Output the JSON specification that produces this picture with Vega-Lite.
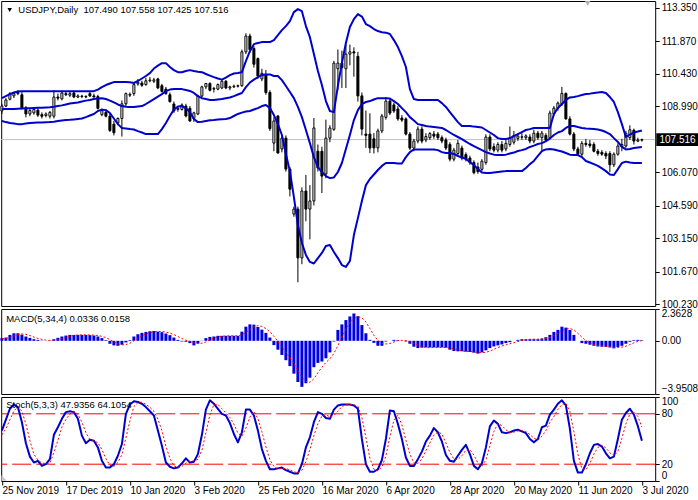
{
"$schema": "https://vega.github.io/schema/vega-lite/v6.json",
"padding": {"left": -0.8, "right": 0, "top": 0, "bottom": 0},
"autosize": {"type": "pad"},
"background": "white",
"spacing": 3,
"bounds": "flush",
"config": {
 "view": {"stroke": "black", "strokeWidth": 1},
 "axis": {"labelFont": "Liberation Sans", "labelFontSize": 10, "labelColor": "black", "tickColor": "black", "tickSize": 4, "labelPadding": 2, "domain": false, "grid": false}
},
"data": {"values": [
{"i":0,"o":108.78,"h":109.10,"l":108.65,"c":109.00,"u":109.35,"m":108.87,"b":108.34,"mh":0.20,"ms":0.15,"k":60,"d":55},
{"i":1,"o":109.00,"h":109.35,"l":108.95,"c":109.27,"u":109.44,"m":108.87,"b":108.29,"mh":0.24,"ms":0.18,"k":73,"d":62},
{"i":2,"o":109.30,"h":109.62,"l":109.25,"c":109.55,"u":109.53,"m":108.87,"b":108.25,"mh":0.44,"ms":0.26,"k":86,"d":73},
{"i":3,"o":109.45,"h":109.62,"l":109.35,"c":109.55,"u":109.60,"m":108.87,"b":108.23,"mh":0.56,"ms":0.36,"k":91,"d":83.3},
{"i":4,"o":109.55,"h":109.70,"l":109.48,"c":109.60,"u":109.64,"m":108.88,"b":108.20,"mh":0.56,"ms":0.45,"k":88,"d":88.3},
{"i":5,"o":109.50,"h":109.62,"l":108.85,"c":108.92,"u":109.66,"m":108.89,"b":108.20,"mh":0.46,"ms":0.51,"k":70,"d":83},
{"i":6,"o":108.92,"h":109.00,"l":108.50,"c":108.65,"u":109.66,"m":108.90,"b":108.23,"mh":0.32,"ms":0.48,"k":45,"d":67.7},
{"i":7,"o":108.65,"h":108.90,"l":108.55,"c":108.80,"u":109.66,"m":108.90,"b":108.25,"mh":0.22,"ms":0.39,"k":29,"d":48},
{"i":8,"o":108.70,"h":108.95,"l":108.62,"c":108.85,"u":109.66,"m":108.91,"b":108.26,"mh":0.12,"ms":0.28,"k":22,"d":32},
{"i":9,"o":108.82,"h":108.90,"l":108.52,"c":108.60,"u":109.66,"m":108.92,"b":108.27,"mh":0.07,"ms":0.18,"k":24,"d":25},
{"i":10,"o":108.62,"h":108.72,"l":108.45,"c":108.55,"u":109.66,"m":108.93,"b":108.27,"mh":0.02,"ms":0.11,"k":18,"d":21.3},
{"i":11,"o":108.58,"h":108.72,"l":108.50,"c":108.65,"u":109.66,"m":108.94,"b":108.28,"mh":0.00,"ms":0.05,"k":20,"d":20.7},
{"i":12,"o":108.55,"h":108.78,"l":108.45,"c":108.72,"u":109.66,"m":108.95,"b":108.29,"mh":0.02,"ms":0.03,"k":26,"d":21.3},
{"i":13,"o":108.55,"h":109.70,"l":108.45,"c":109.40,"u":109.66,"m":108.97,"b":108.31,"mh":0.12,"ms":0.04,"k":55,"d":33.7},
{"i":14,"o":109.40,"h":109.55,"l":109.25,"c":109.35,"u":109.66,"m":109.00,"b":108.34,"mh":0.22,"ms":0.09,"k":64,"d":48.3},
{"i":15,"o":109.32,"h":109.68,"l":109.25,"c":109.58,"u":109.66,"m":109.03,"b":108.36,"mh":0.32,"ms":0.17,"k":74,"d":64.3},
{"i":16,"o":109.55,"h":109.65,"l":109.45,"c":109.50,"u":109.66,"m":109.07,"b":108.38,"mh":0.39,"ms":0.26,"k":82,"d":73.3},
{"i":17,"o":109.48,"h":109.65,"l":109.40,"c":109.55,"u":109.66,"m":109.11,"b":108.39,"mh":0.44,"ms":0.34,"k":83,"d":79.7},
{"i":18,"o":109.58,"h":109.68,"l":109.35,"c":109.40,"u":109.66,"m":109.14,"b":108.41,"mh":0.44,"ms":0.40,"k":82,"d":82.3},
{"i":19,"o":109.40,"h":109.52,"l":109.35,"c":109.45,"u":109.66,"m":109.16,"b":108.43,"mh":0.44,"ms":0.43,"k":74,"d":79.7},
{"i":20,"o":109.42,"h":109.50,"l":109.35,"c":109.44,"u":109.66,"m":109.20,"b":108.45,"mh":0.44,"ms":0.44,"k":54,"d":70},
{"i":21,"o":109.40,"h":109.48,"l":109.35,"c":109.42,"u":109.66,"m":109.24,"b":108.51,"mh":0.44,"ms":0.44,"k":45,"d":57.7},
{"i":22,"o":109.55,"h":109.62,"l":109.40,"c":109.45,"u":109.66,"m":109.27,"b":108.58,"mh":0.42,"ms":0.435,"k":49,"d":49.3},
{"i":23,"o":109.45,"h":109.55,"l":109.38,"c":109.40,"u":109.66,"m":109.31,"b":108.65,"mh":0.39,"ms":0.42,"k":48,"d":47.3},
{"i":24,"o":109.42,"h":109.50,"l":108.85,"c":108.90,"u":109.73,"m":109.33,"b":108.78,"mh":0.32,"ms":0.39,"k":40,"d":45.7},
{"i":25,"o":108.62,"h":108.90,"l":108.55,"c":108.80,"u":109.84,"m":109.35,"b":108.84,"mh":0.20,"ms":0.33,"k":24,"d":37.3},
{"i":26,"o":108.72,"h":108.85,"l":108.50,"c":108.55,"u":109.93,"m":109.31,"b":108.82,"mh":0.05,"ms":0.24,"k":16,"d":26.7},
{"i":27,"o":108.55,"h":108.65,"l":107.85,"c":107.92,"u":110.00,"m":109.24,"b":108.69,"mh":-0.22,"ms":0.09,"k":16,"d":18.7},
{"i":28,"o":108.20,"h":108.35,"l":107.70,"c":107.82,"u":110.06,"m":109.16,"b":108.45,"mh":-0.34,"ms":-0.08,"k":20,"d":17.3},
{"i":29,"o":108.25,"h":108.50,"l":108.15,"c":108.45,"u":110.06,"m":109.07,"b":108.20,"mh":-0.37,"ms":-0.22,"k":30,"d":22},
{"i":30,"o":108.45,"h":109.25,"l":107.65,"c":109.10,"u":110.06,"m":109.00,"b":108.03,"mh":-0.29,"ms":-0.305,"k":44,"d":31.3},
{"i":31,"o":109.10,"h":109.60,"l":109.00,"c":109.55,"u":110.06,"m":108.97,"b":108.01,"mh":-0.12,"ms":-0.28,"k":80,"d":51.3},
{"i":32,"o":109.48,"h":109.60,"l":109.40,"c":109.52,"u":110.05,"m":108.96,"b":107.98,"mh":0.05,"ms":-0.18,"k":91,"d":71.7},
{"i":33,"o":109.55,"h":110.00,"l":109.45,"c":109.95,"u":110.02,"m":108.96,"b":107.96,"mh":0.32,"ms":-0.01,"k":95,"d":88.7},
{"i":34,"o":109.98,"h":110.20,"l":109.90,"c":110.05,"u":110.11,"m":108.98,"b":107.89,"mh":0.49,"ms":0.185,"k":94,"d":93.3},
{"i":35,"o":110.02,"h":110.12,"l":109.85,"c":109.92,"u":110.22,"m":109.00,"b":107.83,"mh":0.59,"ms":0.36,"k":92,"d":93.7},
{"i":36,"o":109.95,"h":110.25,"l":109.90,"c":110.12,"u":110.33,"m":109.09,"b":107.76,"mh":0.66,"ms":0.515,"k":88,"d":91.3},
{"i":37,"o":110.12,"h":110.28,"l":110.05,"c":110.15,"u":110.46,"m":109.20,"b":107.76,"mh":0.71,"ms":0.61,"k":83,"d":87.7},
{"i":38,"o":110.10,"h":110.25,"l":110.02,"c":110.16,"u":110.66,"m":109.31,"b":107.76,"mh":0.73,"ms":0.67,"k":78,"d":83},
{"i":39,"o":110.20,"h":110.25,"l":109.75,"c":109.80,"u":110.79,"m":109.42,"b":107.76,"mh":0.68,"ms":0.695,"k":60,"d":73.7},
{"i":40,"o":109.90,"h":109.98,"l":109.60,"c":109.65,"u":110.90,"m":109.53,"b":107.98,"mh":0.64,"ms":0.69,"k":42,"d":60},
{"i":41,"o":109.75,"h":109.85,"l":109.50,"c":109.55,"u":110.90,"m":109.66,"b":108.25,"mh":0.54,"ms":0.65,"k":22,"d":41.3},
{"i":42,"o":109.50,"h":109.60,"l":109.15,"c":109.20,"u":110.73,"m":109.73,"b":108.56,"mh":0.42,"ms":0.57,"k":17,"d":27},
{"i":43,"o":109.09,"h":109.20,"l":108.70,"c":108.78,"u":110.59,"m":109.75,"b":108.85,"mh":0.24,"ms":0.46,"k":15,"d":18},
{"i":44,"o":108.85,"h":109.00,"l":108.75,"c":108.90,"u":110.50,"m":109.75,"b":108.98,"mh":0.07,"ms":0.32,"k":16,"d":16},
{"i":45,"o":108.85,"h":109.12,"l":108.80,"c":109.05,"u":110.50,"m":109.75,"b":109.00,"mh":-0.05,"ms":0.17,"k":21,"d":17.3},
{"i":46,"o":109.00,"h":109.10,"l":108.50,"c":108.56,"u":110.55,"m":109.71,"b":108.91,"mh":-0.07,"ms":0.05,"k":27,"d":21.3},
{"i":47,"o":108.90,"h":109.00,"l":108.30,"c":108.34,"u":110.59,"m":109.67,"b":108.73,"mh":-0.17,"ms":-0.055,"k":22,"d":23.3},
{"i":48,"o":108.45,"h":108.75,"l":108.30,"c":108.70,"u":110.55,"m":109.58,"b":108.43,"mh":-0.34,"ms":-0.16,"k":23,"d":24},
{"i":49,"o":108.65,"h":109.50,"l":108.60,"c":109.44,"u":110.52,"m":109.44,"b":108.29,"mh":-0.20,"ms":-0.195,"k":32,"d":25.7},
{"i":50,"o":109.44,"h":109.90,"l":109.40,"c":109.85,"u":110.50,"m":109.35,"b":108.31,"mh":-0.02,"ms":-0.18,"k":55,"d":36.7},
{"i":51,"o":109.85,"h":110.02,"l":109.75,"c":110.00,"u":110.42,"m":109.31,"b":108.34,"mh":0.20,"ms":-0.09,"k":85,"d":57.3},
{"i":52,"o":110.00,"h":110.05,"l":109.65,"c":109.70,"u":110.35,"m":109.27,"b":108.37,"mh":0.29,"ms":0.07,"k":96,"d":78.7},
{"i":53,"o":109.75,"h":109.85,"l":109.60,"c":109.78,"u":110.28,"m":109.27,"b":108.38,"mh":0.32,"ms":0.20,"k":92,"d":91},
{"i":54,"o":109.75,"h":110.00,"l":109.70,"c":109.95,"u":110.22,"m":109.29,"b":108.40,"mh":0.37,"ms":0.295,"k":86,"d":91.3},
{"i":55,"o":109.80,"h":110.15,"l":109.75,"c":110.10,"u":110.17,"m":109.31,"b":108.42,"mh":0.37,"ms":0.34,"k":80,"d":86},
{"i":56,"o":110.10,"h":110.15,"l":109.75,"c":109.80,"u":110.26,"m":109.35,"b":108.43,"mh":0.37,"ms":0.36,"k":78,"d":81},
{"i":57,"o":109.80,"h":109.90,"l":109.70,"c":109.85,"u":110.37,"m":109.38,"b":108.47,"mh":0.37,"ms":0.37,"k":69,"d":75.7},
{"i":58,"o":109.85,"h":109.95,"l":109.80,"c":109.88,"u":110.44,"m":109.44,"b":108.56,"mh":0.37,"ms":0.37,"k":56,"d":67.7},
{"i":59,"o":109.88,"h":109.95,"l":109.82,"c":109.90,"u":110.46,"m":109.51,"b":108.65,"mh":0.37,"ms":0.37,"k":46,"d":57},
{"i":60,"o":109.90,"h":111.50,"l":109.85,"c":111.40,"u":110.50,"m":109.58,"b":108.71,"mh":0.68,"ms":0.45,"k":58,"d":53.3},
{"i":61,"o":111.40,"h":112.22,"l":111.30,"c":112.10,"u":110.99,"m":109.84,"b":108.76,"mh":1.05,"ms":0.62,"k":85,"d":63},
{"i":62,"o":112.10,"h":112.20,"l":111.35,"c":111.50,"u":111.43,"m":110.04,"b":108.78,"mh":1.22,"ms":0.83,"k":85,"d":76},
{"i":63,"o":111.55,"h":111.65,"l":110.70,"c":110.85,"u":111.74,"m":110.17,"b":108.85,"mh":1.20,"ms":1.04,"k":78,"d":82.7},
{"i":64,"o":111.10,"h":111.15,"l":110.20,"c":110.33,"u":111.79,"m":110.28,"b":108.91,"mh":1.03,"ms":1.125,"k":60,"d":74.3},
{"i":65,"o":110.20,"h":110.65,"l":110.10,"c":110.45,"u":111.83,"m":110.37,"b":109.00,"mh":0.83,"ms":1.07,"k":38,"d":58.7},
{"i":66,"o":110.40,"h":110.60,"l":109.50,"c":109.60,"u":111.83,"m":110.40,"b":109.05,"mh":0.59,"ms":0.91,"k":24,"d":40.7},
{"i":67,"o":109.60,"h":109.70,"l":107.90,"c":108.00,"u":111.83,"m":110.40,"b":108.91,"mh":0.24,"ms":0.67,"k":14,"d":25.3},
{"i":68,"o":107.36,"h":108.50,"l":107.00,"c":108.34,"u":111.92,"m":110.33,"b":108.60,"mh":-0.32,"ms":0.335,"k":14,"d":17.3},
{"i":69,"o":108.56,"h":108.60,"l":106.90,"c":106.92,"u":112.14,"m":110.33,"b":108.20,"mh":-0.66,"ms":-0.04,"k":15,"d":14.3},
{"i":70,"o":107.10,"h":107.70,"l":106.95,"c":107.58,"u":112.36,"m":110.15,"b":107.72,"mh":-1.05,"ms":-0.45,"k":16,"d":15},
{"i":71,"o":107.58,"h":107.70,"l":106.10,"c":106.21,"u":112.54,"m":109.89,"b":106.88,"mh":-1.44,"ms":-0.87,"k":13,"d":14.7},
{"i":72,"o":106.21,"h":106.30,"l":105.00,"c":105.32,"u":112.76,"m":109.62,"b":106.12,"mh":-1.88,"ms":-1.26,"k":11,"d":13.3},
{"i":73,"o":104.22,"h":104.55,"l":104.10,"c":104.44,"u":113.16,"m":109.35,"b":104.97,"mh":-2.44,"ms":-1.70,"k":9,"d":11},
{"i":74,"o":104.44,"h":104.55,"l":101.20,"c":102.28,"u":113.29,"m":108.96,"b":103.73,"mh":-3.06,"ms":-2.205,"k":9,"d":9.7},
{"i":75,"o":102.28,"h":105.40,"l":102.00,"c":105.24,"u":113.20,"m":108.51,"b":102.94,"mh":-3.42,"ms":-2.70,"k":20,"d":12.7},
{"i":76,"o":105.24,"h":105.95,"l":103.90,"c":104.44,"u":112.54,"m":107.94,"b":102.41,"mh":-3.15,"ms":-3.02,"k":40,"d":23},
{"i":77,"o":104.44,"h":105.50,"l":103.10,"c":104.80,"u":112.05,"m":107.36,"b":102.10,"mh":-2.74,"ms":-3.09,"k":52,"d":37.3},
{"i":78,"o":104.80,"h":108.47,"l":104.60,"c":108.03,"u":111.30,"m":106.74,"b":102.03,"mh":-1.96,"ms":-2.82,"k":70,"d":54},
{"i":79,"o":107.00,"h":107.30,"l":106.10,"c":106.26,"u":110.55,"m":106.30,"b":102.27,"mh":-1.64,"ms":-2.37,"k":82,"d":68},
{"i":80,"o":107.00,"h":107.20,"l":105.15,"c":105.90,"u":109.93,"m":106.08,"b":102.50,"mh":-1.54,"ms":-1.97,"k":80,"d":77.3},
{"i":81,"o":105.99,"h":108.40,"l":105.80,"c":107.58,"u":109.22,"m":105.90,"b":102.81,"mh":-1.30,"ms":-1.61,"k":75,"d":79},
{"i":82,"o":107.58,"h":108.15,"l":107.40,"c":108.03,"u":108.78,"m":105.81,"b":102.85,"mh":-0.86,"ms":-1.335,"k":74,"d":76.3},
{"i":83,"o":107.97,"h":111.00,"l":107.90,"c":110.90,"u":108.73,"m":105.84,"b":102.54,"mh":-0.05,"ms":-0.94,"k":85,"d":78},
{"i":84,"o":110.65,"h":111.50,"l":109.70,"c":110.90,"u":109.89,"m":106.08,"b":102.27,"mh":0.81,"ms":-0.35,"k":90,"d":83},
{"i":85,"o":110.90,"h":111.45,"l":109.80,"c":110.70,"u":110.90,"m":106.48,"b":101.96,"mh":1.22,"ms":0.28,"k":91,"d":88.7},
{"i":86,"o":110.65,"h":111.73,"l":109.80,"c":111.30,"u":111.79,"m":107.10,"b":101.88,"mh":1.54,"ms":0.88,"k":91,"d":90.7},
{"i":87,"o":111.30,"h":111.72,"l":110.80,"c":111.40,"u":112.50,"m":107.72,"b":102.14,"mh":1.81,"ms":1.345,"k":91,"d":91},
{"i":88,"o":111.40,"h":111.60,"l":110.30,"c":111.35,"u":112.85,"m":108.38,"b":103.29,"mh":2.03,"ms":1.65,"k":90,"d":90.7},
{"i":89,"o":111.20,"h":111.40,"l":109.20,"c":109.45,"u":113.07,"m":108.82,"b":104.04,"mh":1.83,"ms":1.80,"k":86,"d":89},
{"i":90,"o":109.45,"h":109.60,"l":107.70,"c":107.98,"u":112.96,"m":109.09,"b":104.80,"mh":1.17,"ms":1.71,"k":50,"d":75.3},
{"i":91,"o":107.76,"h":108.80,"l":107.15,"c":107.70,"u":112.63,"m":109.18,"b":105.50,"mh":0.56,"ms":1.40,"k":20,"d":52},
{"i":92,"o":107.76,"h":108.68,"l":106.92,"c":107.14,"u":112.54,"m":109.22,"b":105.77,"mh":0.07,"ms":0.91,"k":11,"d":27},
{"i":93,"o":107.55,"h":107.80,"l":106.90,"c":107.15,"u":112.41,"m":109.29,"b":105.97,"mh":-0.15,"ms":0.41,"k":11,"d":14},
{"i":94,"o":107.15,"h":108.00,"l":106.95,"c":107.90,"u":112.32,"m":109.35,"b":106.17,"mh":-0.37,"ms":0.03,"k":14,"d":12},
{"i":95,"o":107.90,"h":108.65,"l":107.80,"c":108.56,"u":112.27,"m":109.35,"b":106.35,"mh":-0.37,"ms":-0.205,"k":25,"d":16.7},
{"i":96,"o":108.50,"h":109.40,"l":108.40,"c":109.22,"u":112.25,"m":109.35,"b":106.48,"mh":-0.05,"ms":-0.235,"k":50,"d":29.7},
{"i":97,"o":109.22,"h":109.35,"l":108.60,"c":108.69,"u":112.19,"m":109.33,"b":106.48,"mh":0.00,"ms":-0.20,"k":84,"d":53},
{"i":98,"o":109.05,"h":109.15,"l":108.70,"c":108.78,"u":111.92,"m":109.22,"b":106.48,"mh":0.07,"ms":-0.09,"k":83,"d":72.3},
{"i":99,"o":108.87,"h":109.00,"l":108.35,"c":108.43,"u":111.61,"m":109.09,"b":106.46,"mh":0.05,"ms":0.02,"k":68,"d":78.3},
{"i":100,"o":108.47,"h":108.60,"l":108.30,"c":108.38,"u":111.21,"m":108.91,"b":106.46,"mh":0.00,"ms":0.03,"k":50,"d":67},
{"i":101,"o":108.43,"h":108.50,"l":107.70,"c":107.76,"u":110.73,"m":108.73,"b":106.74,"mh":-0.05,"ms":0.02,"k":28,"d":48.7},
{"i":102,"o":107.76,"h":107.85,"l":107.05,"c":107.14,"u":109.75,"m":108.51,"b":106.96,"mh":-0.22,"ms":-0.055,"k":18,"d":32},
{"i":103,"o":107.14,"h":107.55,"l":107.00,"c":107.45,"u":109.31,"m":108.36,"b":107.08,"mh":-0.44,"ms":-0.18,"k":18,"d":21.3},
{"i":104,"o":107.45,"h":108.10,"l":107.35,"c":107.98,"u":109.27,"m":108.20,"b":107.08,"mh":-0.54,"ms":-0.31,"k":26,"d":20.7},
{"i":105,"o":107.98,"h":108.10,"l":107.35,"c":107.45,"u":109.27,"m":108.16,"b":107.08,"mh":-0.51,"ms":-0.43,"k":35,"d":26.3},
{"i":106,"o":107.50,"h":107.80,"l":107.40,"c":107.65,"u":109.27,"m":108.12,"b":107.08,"mh":-0.49,"ms":-0.495,"k":47,"d":36},
{"i":107,"o":107.60,"h":107.85,"l":107.50,"c":107.78,"u":109.27,"m":108.09,"b":107.08,"mh":-0.49,"ms":-0.51,"k":54,"d":45.3},
{"i":108,"o":107.76,"h":107.90,"l":107.55,"c":107.67,"u":109.27,"m":108.07,"b":107.08,"mh":-0.49,"ms":-0.495,"k":63,"d":54.7},
{"i":109,"o":107.76,"h":107.85,"l":107.50,"c":107.60,"u":109.27,"m":108.05,"b":107.05,"mh":-0.49,"ms":-0.49,"k":58,"d":58.3},
{"i":110,"o":107.60,"h":107.70,"l":107.35,"c":107.45,"u":109.13,"m":108.03,"b":106.96,"mh":-0.49,"ms":-0.49,"k":47,"d":56},
{"i":111,"o":107.50,"h":107.60,"l":107.05,"c":107.14,"u":108.96,"m":107.94,"b":106.92,"mh":-0.51,"ms":-0.495,"k":31,"d":45.3},
{"i":112,"o":107.30,"h":107.40,"l":106.55,"c":106.65,"u":108.73,"m":107.83,"b":106.92,"mh":-0.66,"ms":-0.54,"k":24,"d":34},
{"i":113,"o":106.65,"h":107.15,"l":106.55,"c":107.05,"u":108.51,"m":107.72,"b":106.88,"mh":-0.76,"ms":-0.605,"k":23,"d":26},
{"i":114,"o":106.90,"h":107.50,"l":106.80,"c":107.35,"u":108.29,"m":107.63,"b":106.79,"mh":-0.78,"ms":-0.68,"k":30,"d":25.7},
{"i":115,"o":107.14,"h":107.25,"l":106.60,"c":106.70,"u":108.12,"m":107.54,"b":106.72,"mh":-0.78,"ms":-0.745,"k":37,"d":30},
{"i":116,"o":106.85,"h":106.95,"l":106.55,"c":106.65,"u":108.12,"m":107.43,"b":106.66,"mh":-0.81,"ms":-0.78,"k":43,"d":36.7},
{"i":117,"o":106.70,"h":106.80,"l":106.40,"c":106.50,"u":108.12,"m":107.32,"b":106.52,"mh":-0.83,"ms":-0.80,"k":32,"d":37.3},
{"i":118,"o":106.50,"h":106.60,"l":105.98,"c":106.05,"u":108.09,"m":107.23,"b":106.39,"mh":-0.88,"ms":-0.825,"k":18,"d":31},
{"i":119,"o":106.30,"h":106.50,"l":106.00,"c":106.10,"u":108.07,"m":107.14,"b":106.21,"mh":-0.95,"ms":-0.87,"k":14,"d":21.3},
{"i":120,"o":106.20,"h":106.65,"l":106.10,"c":106.56,"u":108.05,"m":107.05,"b":106.06,"mh":-0.86,"ms":-0.88,"k":21,"d":17.7},
{"i":121,"o":106.50,"h":107.75,"l":106.40,"c":107.63,"u":107.94,"m":106.96,"b":106.04,"mh":-0.71,"ms":-0.85,"k":40,"d":25},
{"i":122,"o":107.63,"h":107.75,"l":107.00,"c":107.10,"u":107.83,"m":106.90,"b":106.04,"mh":-0.54,"ms":-0.765,"k":65,"d":42},
{"i":123,"o":107.20,"h":107.35,"l":106.95,"c":107.05,"u":107.72,"m":106.85,"b":106.06,"mh":-0.42,"ms":-0.63,"k":72,"d":59},
{"i":124,"o":107.05,"h":107.40,"l":106.95,"c":107.30,"u":107.58,"m":106.83,"b":106.08,"mh":-0.34,"ms":-0.50,"k":68,"d":68.3},
{"i":125,"o":107.30,"h":107.45,"l":106.95,"c":107.05,"u":107.54,"m":106.83,"b":106.10,"mh":-0.27,"ms":-0.39,"k":58,"d":66},
{"i":126,"o":107.10,"h":107.50,"l":107.00,"c":107.35,"u":107.54,"m":106.85,"b":106.12,"mh":-0.17,"ms":-0.30,"k":57,"d":61},
{"i":127,"o":107.30,"h":108.10,"l":107.20,"c":107.60,"u":107.58,"m":106.90,"b":106.12,"mh":-0.10,"ms":-0.22,"k":58,"d":57.7},
{"i":128,"o":107.40,"h":107.90,"l":107.30,"c":107.70,"u":107.67,"m":106.94,"b":106.12,"mh":0.00,"ms":-0.135,"k":60,"d":58.3},
{"i":129,"o":107.57,"h":107.80,"l":107.45,"c":107.67,"u":107.76,"m":107.01,"b":106.12,"mh":0.07,"ms":-0.05,"k":61,"d":59.7},
{"i":130,"o":107.62,"h":107.80,"l":107.50,"c":107.64,"u":107.85,"m":107.05,"b":106.12,"mh":0.12,"ms":0.02,"k":59,"d":60},
{"i":131,"o":107.60,"h":107.75,"l":107.50,"c":107.68,"u":107.94,"m":107.10,"b":106.26,"mh":0.12,"ms":0.08,"k":57,"d":59},
{"i":132,"o":107.63,"h":107.75,"l":107.35,"c":107.45,"u":107.98,"m":107.19,"b":106.43,"mh":0.12,"ms":0.11,"k":50,"d":55.3},
{"i":133,"o":107.45,"h":107.95,"l":107.35,"c":107.80,"u":108.03,"m":107.25,"b":106.57,"mh":0.12,"ms":0.12,"k":46,"d":51},
{"i":134,"o":107.80,"h":107.90,"l":107.50,"c":107.60,"u":108.03,"m":107.32,"b":106.79,"mh":0.12,"ms":0.12,"k":50,"d":48.7},
{"i":135,"o":107.60,"h":107.90,"l":107.05,"c":107.80,"u":108.03,"m":107.36,"b":107.01,"mh":0.17,"ms":0.13,"k":64,"d":53.3},
{"i":136,"o":107.70,"h":107.80,"l":107.40,"c":107.50,"u":108.03,"m":107.45,"b":107.08,"mh":0.27,"ms":0.17,"k":66,"d":60},
{"i":137,"o":107.60,"h":108.80,"l":107.55,"c":108.69,"u":108.03,"m":107.56,"b":107.10,"mh":0.44,"ms":0.25,"k":79,"d":69.7},
{"i":138,"o":108.65,"h":109.00,"l":108.55,"c":108.91,"u":108.65,"m":107.72,"b":107.08,"mh":0.66,"ms":0.385,"k":85,"d":76.7},
{"i":139,"o":108.91,"h":109.20,"l":108.80,"c":109.13,"u":108.91,"m":107.83,"b":107.03,"mh":0.81,"ms":0.545,"k":92,"d":85.3},
{"i":140,"o":109.10,"h":109.85,"l":109.00,"c":109.56,"u":109.09,"m":107.89,"b":106.99,"mh":1.05,"ms":0.74,"k":96,"d":91},
{"i":141,"o":109.56,"h":109.60,"l":108.40,"c":108.43,"u":109.27,"m":108.03,"b":106.92,"mh":0.98,"ms":0.875,"k":90,"d":92.7},
{"i":142,"o":108.43,"h":108.55,"l":107.70,"c":107.76,"u":109.38,"m":108.12,"b":106.85,"mh":0.81,"ms":0.91,"k":62,"d":82.7},
{"i":143,"o":107.76,"h":107.85,"l":107.00,"c":107.10,"u":109.40,"m":108.12,"b":106.83,"mh":0.44,"ms":0.82,"k":24,"d":58.7},
{"i":144,"o":107.10,"h":107.20,"l":106.80,"c":106.87,"u":109.44,"m":108.07,"b":106.83,"mh":0.00,"ms":0.56,"k":10,"d":32},
{"i":145,"o":106.87,"h":107.45,"l":106.70,"c":107.35,"u":109.49,"m":108.03,"b":106.74,"mh":-0.17,"ms":0.27,"k":10,"d":14.7},
{"i":146,"o":107.35,"h":107.55,"l":107.20,"c":107.30,"u":109.53,"m":108.01,"b":106.57,"mh":-0.22,"ms":0.01,"k":20,"d":13.3},
{"i":147,"o":107.32,"h":107.50,"l":107.15,"c":107.25,"u":109.55,"m":108.00,"b":106.50,"mh":-0.29,"ms":-0.17,"k":33,"d":21},
{"i":148,"o":107.30,"h":107.40,"l":106.95,"c":107.00,"u":109.58,"m":107.98,"b":106.43,"mh":-0.37,"ms":-0.26,"k":43,"d":32},
{"i":149,"o":107.00,"h":107.10,"l":106.80,"c":106.90,"u":109.60,"m":107.96,"b":106.35,"mh":-0.42,"ms":-0.325,"k":44,"d":40},
{"i":150,"o":106.95,"h":107.05,"l":106.80,"c":106.87,"u":109.62,"m":107.92,"b":106.24,"mh":-0.44,"ms":-0.38,"k":41,"d":42.7},
{"i":151,"o":106.90,"h":107.00,"l":106.65,"c":106.79,"u":109.58,"m":107.85,"b":106.12,"mh":-0.46,"ms":-0.42,"k":33,"d":39.3},
{"i":152,"o":106.90,"h":107.00,"l":106.07,"c":106.40,"u":109.40,"m":107.76,"b":105.97,"mh":-0.49,"ms":-0.45,"k":27,"d":33.7},
{"i":153,"o":106.40,"h":106.95,"l":106.30,"c":106.87,"u":109.18,"m":107.58,"b":105.95,"mh":-0.56,"ms":-0.49,"k":29,"d":29.7},
{"i":154,"o":106.87,"h":107.35,"l":106.80,"c":107.23,"u":108.73,"m":107.41,"b":106.21,"mh":-0.46,"ms":-0.49,"k":50,"d":35.3},
{"i":155,"o":107.20,"h":107.55,"l":107.00,"c":107.30,"u":108.20,"m":107.19,"b":106.48,"mh":-0.37,"ms":-0.47,"k":73,"d":50.7},
{"i":156,"o":107.23,"h":107.90,"l":107.15,"c":107.80,"u":107.63,"m":107.08,"b":106.54,"mh":-0.22,"ms":-0.40,"k":81,"d":68},
{"i":157,"o":107.60,"h":108.15,"l":107.50,"c":107.95,"u":107.74,"m":107.10,"b":106.50,"mh":-0.07,"ms":-0.28,"k":86,"d":80},
{"i":158,"o":107.93,"h":108.00,"l":107.30,"c":107.45,"u":107.83,"m":107.14,"b":106.48,"mh":0.05,"ms":-0.15,"k":79,"d":82},
{"i":159,"o":107.45,"h":107.60,"l":107.40,"c":107.50,"u":107.87,"m":107.17,"b":106.48,"mh":0.07,"ms":-0.04,"k":65.3,"d":76.8},
{"i":160,"o":107.49,"h":107.558,"l":107.425,"c":107.516,"u":107.92,"m":107.19,"b":106.48,"mh":0.0336,"ms":0.0158,"k":47.94,"d":64.11}
]},
"vconcat": [
 {
  "width": 654, "height": 305,
  "layer": [
   {"data": {"values": [{}]}, "mark": {"type": "rule", "color": "#c0c0c0", "strokeWidth": 1},
    "encoding": {"y": {"datum": 107.516, "type": "quantitative", "scale": {"domain": [100.15, 113.65], "nice": false, "zero": false},
     "axis": {"orient": "right", "values": [113.35, 111.87, 110.43, 108.99, 106.07, 104.59, 103.15, 101.67, 100.23], "format": ".3f", "title": null}}}},
   {"mark": {"type": "rule", "color": "black", "strokeWidth": 1, "strokeJoin": "round"},
    "encoding": {
     "x": {"field": "i", "type": "quantitative", "scale": {"domain": [-0.175, 163.325], "nice": false, "zero": false, "padding": 0}, "axis": null},
     "y": {"field": "l", "type": "quantitative", "scale": {"domain": [100.15, 113.65], "nice": false, "zero": false},
           "axis": {"orient": "right", "values": [113.35, 111.87, 110.43, 108.99, 106.07, 104.59, 103.15, 101.67, 100.23], "format": ".3f", "title": null}},
     "y2": {"field": "h"}}},
   {"mark": {"type": "bar", "size": 2, "stroke": "black", "strokeWidth": 1, "strokeJoin": "round"},
    "encoding": {
     "x": {"field": "i", "type": "quantitative", "scale": {"domain": [-0.175, 163.325], "nice": false, "zero": false, "padding": 0}, "axis": null},
     "y": {"field": "o", "type": "quantitative", "scale": {"domain": [100.15, 113.65], "nice": false, "zero": false},
           "axis": {"orient": "right", "values": [113.35, 111.87, 110.43, 108.99, 106.07, 104.59, 103.15, 101.67, 100.23], "format": ".3f", "title": null}},
     "y2": {"field": "c"},
     "fill": {"condition": {"test": "datum.c >= datum.o", "value": "white"}, "value": "black"}}},
   {"mark": {"type": "line", "color": "#0000cd", "strokeWidth": 2, "strokeJoin": "round"},
    "encoding": {
     "x": {"field": "i", "type": "quantitative", "scale": {"domain": [-0.175, 163.325], "nice": false, "zero": false, "padding": 0}, "axis": null},
     "y": {"field": "u", "type": "quantitative", "scale": {"domain": [100.15, 113.65], "nice": false, "zero": false},
           "axis": {"orient": "right", "values": [113.35, 111.87, 110.43, 108.99, 106.07, 104.59, 103.15, 101.67, 100.23], "format": ".3f", "title": null}}}},
   {"mark": {"type": "line", "color": "#0000cd", "strokeWidth": 2, "strokeJoin": "round"},
    "encoding": {
     "x": {"field": "i", "type": "quantitative", "scale": {"domain": [-0.175, 163.325], "nice": false, "zero": false, "padding": 0}, "axis": null},
     "y": {"field": "m", "type": "quantitative", "scale": {"domain": [100.15, 113.65], "nice": false, "zero": false},
           "axis": {"orient": "right", "values": [113.35, 111.87, 110.43, 108.99, 106.07, 104.59, 103.15, 101.67, 100.23], "format": ".3f", "title": null}}}},
   {"mark": {"type": "line", "color": "#0000cd", "strokeWidth": 2, "strokeJoin": "round"},
    "encoding": {
     "x": {"field": "i", "type": "quantitative", "scale": {"domain": [-0.175, 163.325], "nice": false, "zero": false, "padding": 0}, "axis": null},
     "y": {"field": "b", "type": "quantitative", "scale": {"domain": [100.15, 113.65], "nice": false, "zero": false},
           "axis": {"orient": "right", "values": [113.35, 111.87, 110.43, 108.99, 106.07, 104.59, 103.15, 101.67, 100.23], "format": ".3f", "title": null}}}},
   {"data": {"values": [{}]}, "mark": {"type": "rect", "fill": "black", "clip": false},
    "encoding": {
     "x": {"datum": 163.6, "type": "quantitative", "scale": {"domain": [-0.175, 163.325], "nice": false, "zero": false, "padding": 0}, "axis": null},
     "x2": {"datum": 174.3},
     "y": {"datum": 107.80, "type": "quantitative", "scale": {"domain": [100.15, 113.65], "nice": false, "zero": false},
           "axis": {"orient": "right", "values": [113.35, 111.87, 110.43, 108.99, 106.07, 104.59, 103.15, 101.67, 100.23], "format": ".3f", "title": null}},
     "y2": {"datum": 107.23}}},
   {"data": {"values": [{}]}, "mark": {"type": "text", "text": "107.516", "color": "white", "font": "Liberation Sans", "fontSize": 10, "align": "left", "baseline": "middle", "clip": false},
    "encoding": {
     "x": {"datum": 164.4, "type": "quantitative", "scale": {"domain": [-0.175, 163.325], "nice": false, "zero": false, "padding": 0}, "axis": null},
     "y": {"datum": 107.516, "type": "quantitative", "scale": {"domain": [100.15, 113.65], "nice": false, "zero": false},
           "axis": {"orient": "right", "values": [113.35, 111.87, 110.43, 108.99, 106.07, 104.59, 103.15, 101.67, 100.23], "format": ".3f", "title": null}}}},
   {"data": {"values": [{}]}, "mark": {"type": "point", "shape": "triangle-down", "filled": true, "color": "black", "size": 20, "opacity": 1},
    "encoding": {
     "x": {"datum": 1.95, "type": "quantitative", "scale": {"domain": [-0.175, 163.325], "nice": false, "zero": false, "padding": 0}, "axis": null},
     "y": {"datum": 113.25, "type": "quantitative", "scale": {"domain": [100.15, 113.65], "nice": false, "zero": false},
           "axis": {"orient": "right", "values": [113.35, 111.87, 110.43, 108.99, 106.07, 104.59, 103.15, 101.67, 100.23], "format": ".3f", "title": null}}}},
   {"data": {"values": [{}]}, "mark": {"type": "point", "shape": "triangle-down", "filled": true, "color": "#b0b0b0", "size": 30, "opacity": 1},
    "encoding": {
     "x": {"datum": 146.45, "type": "quantitative", "scale": {"domain": [-0.175, 163.325], "nice": false, "zero": false, "padding": 0}, "axis": null},
     "y": {"datum": 113.54, "type": "quantitative", "scale": {"domain": [100.15, 113.65], "nice": false, "zero": false},
           "axis": {"orient": "right", "values": [113.35, 111.87, 110.43, 108.99, 106.07, 104.59, 103.15, 101.67, 100.23], "format": ".3f", "title": null}}}},
   {"data": {"values": [{}]}, "mark": {"type": "text", "text": "USDJPY,Daily\u00a0 107.490 107.558 107.425 107.516", "color": "black", "font": "Liberation Sans", "fontSize": 9.5, "align": "left", "baseline": "middle"},
    "encoding": {
     "x": {"datum": 4.1, "type": "quantitative", "scale": {"domain": [-0.175, 163.325], "nice": false, "zero": false, "padding": 0}, "axis": null},
     "y": {"datum": 113.27, "type": "quantitative", "scale": {"domain": [100.15, 113.65], "nice": false, "zero": false},
           "axis": {"orient": "right", "values": [113.35, 111.87, 110.43, 108.99, 106.07, 104.59, 103.15, 101.67, 100.23], "format": ".3f", "title": null}}}}
  ]
 },
 {
  "width": 654, "height": 85,
  "layer": [
   {"mark": {"type": "bar", "size": 3, "color": "#0000e0"},
    "encoding": {
     "x": {"field": "i", "type": "quantitative", "scale": {"domain": [-0.175, 163.325], "nice": false, "zero": false, "padding": 0}, "axis": null},
     "y": {"field": "mh", "type": "quantitative", "scale": {"domain": [-3.9508, 2.3628], "nice": false, "zero": false},
           "axis": {"orient": "right", "values": [2.3628, 0, -3.9508], "labelExpr": "datum.value == 0 ? '0.00' : format(datum.value, '.4f')", "labelFlush": true, "title": null}},
     "y2": {"datum": 0}}},
   {"mark": {"type": "line", "color": "#ff0000", "strokeWidth": 1, "strokeDash": [2, 2], "strokeJoin": "round"},
    "encoding": {
     "x": {"field": "i", "type": "quantitative", "scale": {"domain": [-0.175, 163.325], "nice": false, "zero": false, "padding": 0}, "axis": null},
     "y": {"field": "ms", "type": "quantitative", "scale": {"domain": [-3.9508, 2.3628], "nice": false, "zero": false},
           "axis": {"orient": "right", "values": [2.3628, 0, -3.9508], "labelExpr": "datum.value == 0 ? '0.00' : format(datum.value, '.4f')", "labelFlush": true, "title": null}}}},
   {"data": {"values": [{}]}, "mark": {"type": "text", "text": "MACD(5,34,4) 0.0336 0.0158", "color": "black", "font": "Liberation Sans", "fontSize": 9.5, "align": "left", "baseline": "middle"},
    "encoding": {
     "x": {"datum": 1.07, "type": "quantitative", "scale": {"domain": [-0.175, 163.325], "nice": false, "zero": false, "padding": 0}, "axis": null},
     "y": {"datum": 1.64, "type": "quantitative", "scale": {"domain": [-3.9508, 2.3628], "nice": false, "zero": false},
           "axis": {"orient": "right", "values": [2.3628, 0, -3.9508], "labelExpr": "datum.value == 0 ? '0.00' : format(datum.value, '.4f')", "labelFlush": true, "title": null}}}}
  ]
 },
 {
  "width": 654, "height": 84,
  "layer": [
   {"data": {"values": [{"lv": 80}, {"lv": 20}]}, "mark": {"type": "rule", "color": "#ff0000", "strokeWidth": 1, "strokeDash": [19, 5]},
    "encoding": {"y": {"field": "lv", "type": "quantitative", "scale": {"domain": [0, 100], "nice": false},
     "axis": {"orient": "right", "values": [100, 80, 20, 0], "labelFlush": true, "title": null}}}},
   {"mark": {"type": "line", "color": "#0000cd", "strokeWidth": 2, "strokeJoin": "round"},
    "encoding": {
     "x": {"field": "i", "type": "quantitative", "scale": {"domain": [-0.175, 163.325], "nice": false, "zero": false, "padding": 0},
           "axis": {"orient": "bottom", "values": [0, 16, 32, 48, 64, 80, 96, 112, 128, 144, 160], "labelExpr": "['25 Nov 2019','17 Dec 2019','10 Jan 2020','3 Feb 2020','25 Feb 2020','16 Mar 2020','6 Apr 2020','28 Apr 2020','20 May 2020','11 Jun 2020','3 Jul 2020'][round(datum.value/16)]", "labelAlign": "left", "labelBaseline": "top", "labelPadding": 1, "labelFlush": false, "labelOverlap": false, "labelBound": false, "title": null}},
     "y": {"field": "k", "type": "quantitative", "scale": {"domain": [0, 100], "nice": false},
           "axis": {"orient": "right", "values": [100, 80, 20, 0], "labelFlush": true, "title": null}}}},
   {"mark": {"type": "line", "color": "#ff0000", "strokeWidth": 1, "strokeDash": [2, 2], "strokeJoin": "round"},
    "encoding": {
     "x": {"field": "i", "type": "quantitative", "scale": {"domain": [-0.175, 163.325], "nice": false, "zero": false, "padding": 0},
           "axis": {"orient": "bottom", "values": [0, 16, 32, 48, 64, 80, 96, 112, 128, 144, 160], "labelExpr": "['25 Nov 2019','17 Dec 2019','10 Jan 2020','3 Feb 2020','25 Feb 2020','16 Mar 2020','6 Apr 2020','28 Apr 2020','20 May 2020','11 Jun 2020','3 Jul 2020'][round(datum.value/16)]", "labelAlign": "left", "labelBaseline": "top", "labelPadding": 1, "labelFlush": false, "labelOverlap": false, "labelBound": false, "title": null}},
     "y": {"field": "d", "type": "quantitative", "scale": {"domain": [0, 100], "nice": false},
           "axis": {"orient": "right", "values": [100, 80, 20, 0], "labelFlush": true, "title": null}}}},
   {"data": {"values": [{}]}, "mark": {"type": "point", "shape": "M-1,1L1,1L-1,-1Z", "filled": true, "color": "#c8c8c8", "size": 30, "opacity": 1},
    "encoding": {
     "x": {"datum": 0.55, "type": "quantitative", "scale": {"domain": [-0.175, 163.325], "nice": false, "zero": false, "padding": 0},
           "axis": {"orient": "bottom", "values": [0, 16, 32, 48, 64, 80, 96, 112, 128, 144, 160], "labelExpr": "['25 Nov 2019','17 Dec 2019','10 Jan 2020','3 Feb 2020','25 Feb 2020','16 Mar 2020','6 Apr 2020','28 Apr 2020','20 May 2020','11 Jun 2020','3 Jul 2020'][round(datum.value/16)]", "labelAlign": "left", "labelBaseline": "top", "labelPadding": 1, "labelFlush": false, "labelOverlap": false, "labelBound": false, "title": null}},
     "y": {"datum": 3.6, "type": "quantitative", "scale": {"domain": [0, 100], "nice": false},
           "axis": {"orient": "right", "values": [100, 80, 20, 0], "labelFlush": true, "title": null}}}},
   {"data": {"values": [{}]}, "mark": {"type": "text", "text": "Stoch(5,3,3) 47.9356 64.1054", "color": "black", "font": "Liberation Sans", "fontSize": 9.5, "align": "left", "baseline": "middle"},
    "encoding": {
     "x": {"datum": 1.07, "type": "quantitative", "scale": {"domain": [-0.175, 163.325], "nice": false, "zero": false, "padding": 0},
           "axis": {"orient": "bottom", "values": [0, 16, 32, 48, 64, 80, 96, 112, 128, 144, 160], "labelExpr": "['25 Nov 2019','17 Dec 2019','10 Jan 2020','3 Feb 2020','25 Feb 2020','16 Mar 2020','6 Apr 2020','28 Apr 2020','20 May 2020','11 Jun 2020','3 Jul 2020'][round(datum.value/16)]", "labelAlign": "left", "labelBaseline": "top", "labelPadding": 1, "labelFlush": false, "labelOverlap": false, "labelBound": false, "title": null}},
     "y": {"datum": 90.5, "type": "quantitative", "scale": {"domain": [0, 100], "nice": false},
           "axis": {"orient": "right", "values": [100, 80, 20, 0], "labelFlush": true, "title": null}}}}
  ]
 }
]
}
